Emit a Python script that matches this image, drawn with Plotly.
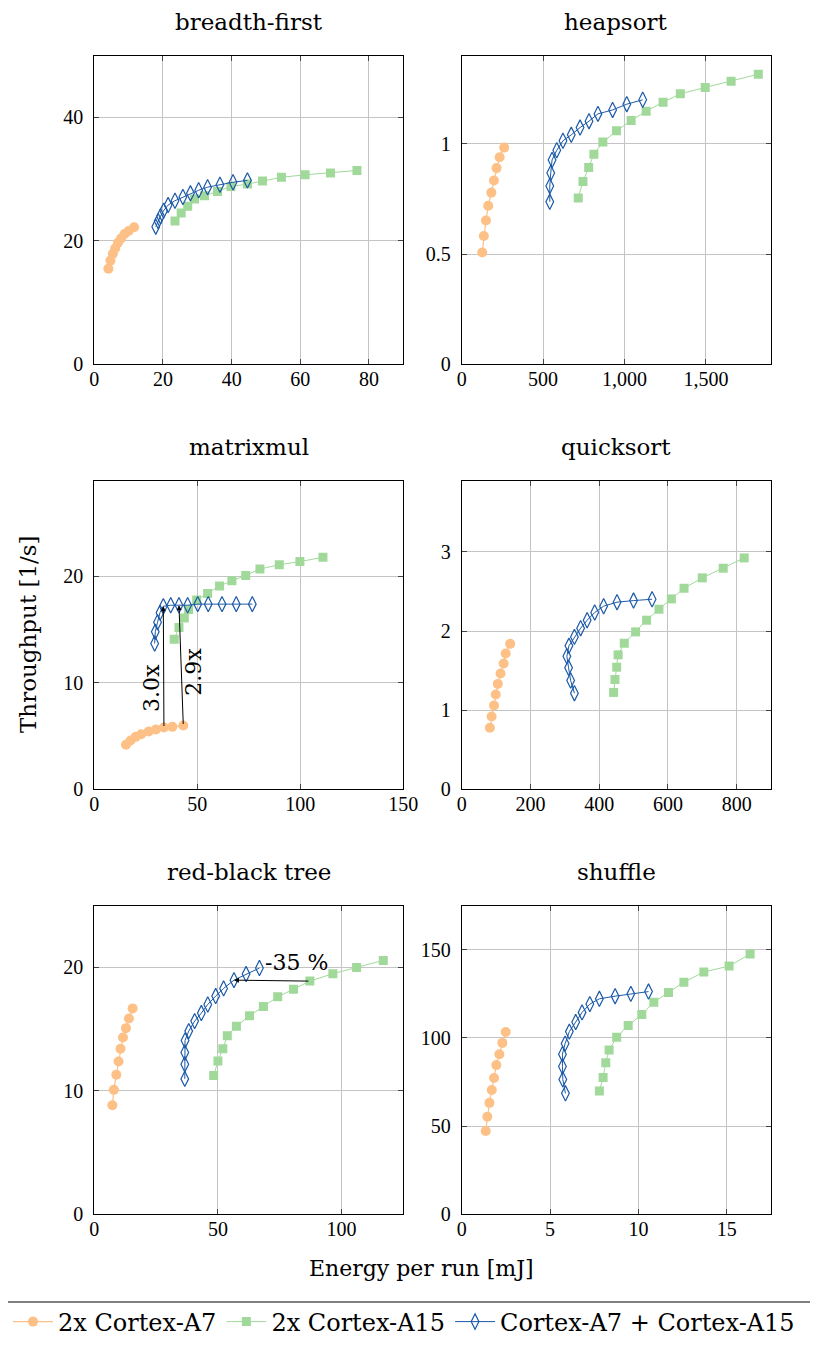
import plotly.graph_objects as go

series_names = ["2x Cortex-A7", "2x Cortex-A15", "Cortex-A7 + Cortex-A15"]
panel_titles = ["breadth-first", "heapsort", "matrixmul", "quicksort", "red-black tree", "shuffle"]

# breadth-first
bf_a7_x = [4.1, 4.7, 5.4, 6.1, 6.9, 7.8, 8.8, 10.0, 11.6]
bf_a7_y = [15.5, 16.8, 17.9, 18.8, 19.7, 20.4, 21.1, 21.6, 22.2]
bf_a15_x = [23.5, 25.3, 27.2, 29.2, 32.1, 35.9, 39.8, 44.6, 49.0, 54.5, 61.4, 68.8, 76.5]
bf_a15_y = [23.2, 24.5, 25.6, 26.8, 27.3, 28.0, 28.8, 29.2, 29.7, 30.3, 30.7, 31.0, 31.4]
bf_mix_x = [17.9, 18.6, 19.3, 20.2, 21.5, 23.5, 25.8, 28.0, 30.4, 33.0, 36.6, 40.4, 44.6]
bf_mix_y = [22.3, 23.2, 24.0, 24.9, 25.8, 26.5, 27.1, 27.7, 28.2, 28.7, 29.1, 29.5, 29.8]

# heapsort
hs_a7_x = [126, 136, 149, 163, 182, 198, 214, 233, 261]
hs_a7_y = [0.507, 0.582, 0.652, 0.719, 0.779, 0.834, 0.890, 0.939, 0.983]
hs_a15_x = [716, 745, 780, 812, 867, 951, 1041, 1133, 1237, 1343, 1496, 1655, 1822]
hs_a15_y = [0.755, 0.829, 0.893, 0.953, 1.008, 1.059, 1.106, 1.148, 1.189, 1.227, 1.256, 1.284, 1.316]
hs_mix_x = [541, 541, 547, 555, 584, 622, 673, 727, 782, 837, 927, 1014, 1112]
hs_mix_y = [0.737, 0.809, 0.868, 0.927, 0.971, 1.014, 1.041, 1.074, 1.103, 1.136, 1.154, 1.180, 1.200]

# matrixmul
mm_a7_x = [15.4, 17.6, 20.1, 22.8, 26.4, 29.9, 33.8, 37.9, 43.2]
mm_a7_y = [4.18, 4.58, 4.93, 5.18, 5.43, 5.62, 5.81, 5.87, 6.0]
mm_a15_x = [38.8, 41.1, 43.7, 45.8, 49.7, 55.0, 60.8, 66.8, 73.5, 80.4, 89.8, 99.8, 111.0]
mm_a15_y = [14.1, 15.2, 16.1, 16.9, 17.8, 18.4, 19.1, 19.6, 20.1, 20.7, 21.1, 21.4, 21.8]
mm_mix_x = [29.3, 29.6, 30.7, 31.9, 33.5, 37.1, 41.1, 45.3, 50.2, 55.3, 62.0, 68.9, 76.7]
mm_mix_y = [13.7, 14.8, 15.7, 16.6, 17.2, 17.3, 17.3, 17.3, 17.4, 17.4, 17.4, 17.4, 17.4]

# quicksort
qs_a7_x = [82, 87, 94, 99, 105, 113, 122, 128, 141]
qs_a7_y = [0.777, 0.920, 1.059, 1.198, 1.332, 1.463, 1.589, 1.716, 1.838]
qs_a15_x = [442, 446, 451, 455, 473, 506, 538, 574, 610, 647, 700, 761, 822]
qs_a15_y = [1.224, 1.388, 1.543, 1.699, 1.846, 1.989, 2.137, 2.276, 2.406, 2.541, 2.672, 2.794, 2.924]
qs_mix_x = [328, 317, 311, 306, 312, 328, 346, 365, 387, 413, 452, 500, 554]
qs_mix_y = [1.215, 1.375, 1.535, 1.682, 1.813, 1.926, 2.036, 2.137, 2.234, 2.314, 2.365, 2.385, 2.402]

# red-black tree
rb_a7_x = [7.3, 7.9, 8.9, 9.8, 10.6, 11.6, 12.8, 14.0, 15.5]
rb_a7_y = [8.84, 10.08, 11.30, 12.38, 13.41, 14.32, 15.08, 15.86, 16.68]
rb_a15_x = [48.3, 50.0, 52.0, 53.8, 57.5, 62.8, 68.4, 74.2, 80.6, 87.2, 96.5, 106.1, 116.9]
rb_a15_y = [11.24, 12.41, 13.41, 14.46, 15.24, 16.08, 16.84, 17.62, 18.24, 18.89, 19.49, 20.0, 20.57]
rb_mix_x = [36.6, 36.6, 36.6, 36.7, 38.2, 40.6, 43.3, 45.9, 49.1, 52.3, 56.5, 61.4, 66.8]
rb_mix_y = [10.97, 12.16, 13.11, 14.08, 14.84, 15.65, 16.30, 17.0, 17.68, 18.30, 18.97, 19.46, 19.95]

# shuffle
sh_a7_x = [1.36, 1.45, 1.57, 1.70, 1.83, 1.96, 2.13, 2.30, 2.49]
sh_a7_y = [47.2, 55.3, 63.2, 70.5, 77.3, 84.6, 90.8, 97.2, 103.4]
sh_a15_x = [7.79, 8.00, 8.15, 8.34, 8.77, 9.42, 10.19, 10.87, 11.70, 12.57, 13.70, 15.13, 16.32]
sh_a15_y = [69.9, 77.6, 85.9, 93.2, 100.4, 107.1, 113.3, 120.3, 125.8, 131.6, 137.4, 140.8, 147.6]
sh_mix_x = [5.87, 5.72, 5.70, 5.70, 5.85, 6.09, 6.45, 6.81, 7.25, 7.79, 8.68, 9.57, 10.57]
sh_mix_y = [68.6, 76.5, 83.8, 90.8, 96.8, 103.6, 109.0, 114.5, 119.2, 122.2, 123.7, 125.0, 126.3]

x_ranges = [[0, 90], [0, 1900], [0, 150], [0, 900], [0, 125], [0, 17.5]]
y_ranges = [[0, 50], [0, 1.4], [0, 29], [0, 3.9], [0, 25], [0, 175]]
x_ticks = [[0, 20, 40, 60, 80], [0, 500, 1000, 1500], [0, 50, 100, 150],
           [0, 200, 400, 600, 800], [0, 50, 100], [0, 5, 10, 15]]
y_ticks = [[0, 20, 40], [0, 0.5, 1], [0, 10, 20], [0, 1, 2, 3], [0, 10, 20], [0, 50, 100, 150]]

panels = [
    (bf_a7_x, bf_a7_y, bf_a15_x, bf_a15_y, bf_mix_x, bf_mix_y),
    (hs_a7_x, hs_a7_y, hs_a15_x, hs_a15_y, hs_mix_x, hs_mix_y),
    (mm_a7_x, mm_a7_y, mm_a15_x, mm_a15_y, mm_mix_x, mm_mix_y),
    (qs_a7_x, qs_a7_y, qs_a15_x, qs_a15_y, qs_mix_x, qs_mix_y),
    (rb_a7_x, rb_a7_y, rb_a15_x, rb_a15_y, rb_mix_x, rb_mix_y),
    (sh_a7_x, sh_a7_y, sh_a15_x, sh_a15_y, sh_mix_x, sh_mix_y),
]

# page is offset by the 8px body margin of the html page
OFF = 8
PW, PH = 818, 1345
W, H = PW - OFF, PH - 2 * OFF
F_TEXT = "DejaVu Serif"
F_TICK = "Liberation Serif"
C_A7 = "#fdc086"
C_A15 = "#a1d99b"
C_MIX = "#1c5aa8"


def px_x(p):
    return (p - OFF) / W


def px_y(p):
    return 1 - (p - OFF) / H


col_px = [(94.3, 403.3), (461.7, 771.0)]
row_px = [(55.7, 364.3), (480.7, 789.3), (905.7, 1214.3)]

fig = go.Figure()
layout = dict()
styles = [
    dict(color=C_A7, symbol="circle", size=10, line_w=1.2, open=False),
    dict(color=C_A15, symbol="square", size=9, line_w=1.0, open=False),
    dict(color=C_MIX, symbol="diamond-tall-open", size=11, line_w=1.0, open=True),
]
for i, p in enumerate(panels):
    r, c = divmod(i, 2)
    k = "" if i == 0 else str(i + 1)
    xa, ya = "x" + k, "y" + k
    for s in range(3):
        st = styles[s]
        marker = dict(color=st["color"], symbol=st["symbol"], size=st["size"])
        if st["open"]:
            marker["line"] = dict(color=st["color"], width=1.2)
        else:
            marker["line"] = dict(width=0)
        fig.add_trace(go.Scatter(
            x=p[2 * s], y=p[2 * s + 1], mode="lines+markers",
            line=dict(color=st["color"], width=st["line_w"]),
            marker=marker, name=series_names[s], legendgroup=series_names[s],
            showlegend=(i == 0), xaxis=xa, yaxis=ya))
    x0, x1 = col_px[c]
    y0, y1 = row_px[r]
    axis_common = dict(showline=True, mirror="allticks", linecolor="black", linewidth=1,
                       showgrid=True, gridcolor="#c4c4c4", gridwidth=1,
                       ticks="inside", ticklen=5, tickcolor="#444444", tickwidth=1,
                       zeroline=False, automargin=False,
                       tickfont=dict(family=F_TICK, size=20, color="black"))
    layout["xaxis" + k] = dict(axis_common, domain=[px_x(x0), px_x(x1)], range=x_ranges[i],
                               tickvals=x_ticks[i], tickformat=",", anchor=ya,
                               ticklabelstandoff=-3)
    layout["yaxis" + k] = dict(axis_common, domain=[px_y(y1), px_y(y0)], range=y_ranges[i],
                               tickvals=y_ticks[i], anchor=xa, ticklabelstandoff=6)

fig.update_layout(**layout)

annotations = []
for i, t in enumerate(panel_titles):
    r, c = divmod(i, 2)
    x0, x1 = col_px[c]
    y0, _ = row_px[r]
    annotations.append(dict(text=t, x=px_x((x0 + x1) / 2), y=px_y(y0 - 34),
                            xref="paper", yref="paper", showarrow=False,
                            xanchor="center", yanchor="middle",
                            font=dict(family=F_TEXT, size=23, color="black")))

annotations.append(dict(text="Energy per run [mJ]", x=px_x(421), y=px_y(1268), xref="paper",
                        yref="paper", showarrow=False, xanchor="center", yanchor="middle",
                        font=dict(family=F_TEXT, size=22, color="black")))
annotations.append(dict(text="Throughput [1/s]", x=px_x(28), y=px_y(634), xref="paper",
                        yref="paper", showarrow=False, xanchor="center", yanchor="middle",
                        textangle=-90, font=dict(family=F_TEXT, size=23, color="black")))

# matrixmul speedup arrows
arrow_style = dict(showarrow=True, arrowhead=2, arrowsize=1, arrowwidth=1, arrowcolor="black",
                   text="", axref="x3", ayref="y3", xref="x3", yref="y3")
annotations.append(dict(arrow_style, x=mm_mix_x[4], y=mm_mix_y[4], ax=mm_a7_x[6], ay=mm_a7_y[6]))
annotations.append(dict(arrow_style, x=mm_mix_x[6], y=mm_mix_y[6], ax=mm_a7_x[8], ay=mm_a7_y[8]))
annotations.append(dict(text="3.0x", x=27.4, y=9.5, xref="x3", yref="y3", showarrow=False,
                        textangle=-90, font=dict(family=F_TEXT, size=22, color="black")))
annotations.append(dict(text="2.9x", x=48.2, y=11.0, xref="x3", yref="y3", showarrow=False,
                        textangle=-90, font=dict(family=F_TEXT, size=22, color="black")))
# red-black energy saving arrow
annotations.append(dict(showarrow=True, arrowhead=2, arrowsize=1, arrowwidth=1, arrowcolor="black",
                        text="", axref="x5", ayref="y5", xref="x5", yref="y5",
                        x=rb_mix_x[10], y=rb_mix_y[10], ax=rb_a15_x[9], ay=rb_a15_y[9]))
annotations.append(dict(text="-35 %", x=81.9, y=20.4, xref="x5", yref="y5", showarrow=False,
                        font=dict(family=F_TEXT, size=22, color="black")))

fig.update_layout(
    width=W, height=H, margin=dict(l=0, r=0, t=0, b=0, autoexpand=False),
    paper_bgcolor="white", plot_bgcolor="white",
    annotations=annotations,
    shapes=[dict(type="line", xref="paper", yref="paper", x0=px_x(0), x1=px_x(PW),
                 y0=px_y(1302), y1=px_y(1302), line=dict(color="black", width=1))],
    legend=dict(orientation="h", x=0, xanchor="left", y=px_y(1322), yanchor="middle",
                font=dict(family=F_TEXT, size=24, color="black"), itemwidth=40,
                bgcolor="rgba(0,0,0,0)", tracegroupgap=0),
    font=dict(family=F_TICK, color="black"),
)

fig.write_html("out.html")
